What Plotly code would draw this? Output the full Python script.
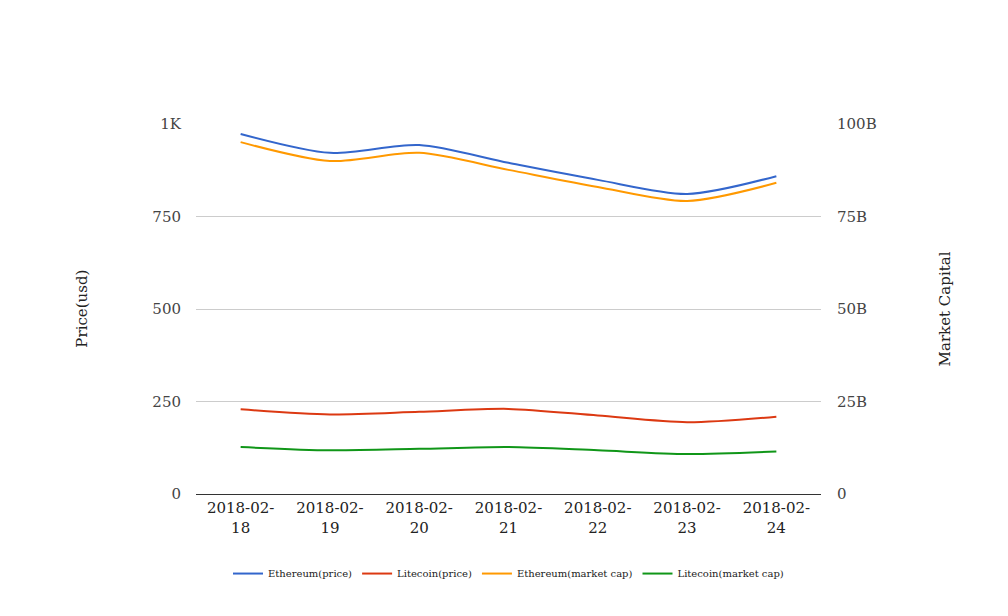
import plotly.graph_objects as go

dates = ["2018-02-<br>18", "2018-02-<br>19", "2018-02-<br>20", "2018-02-<br>21",
         "2018-02-<br>22", "2018-02-<br>23", "2018-02-<br>24"]
eth_price = [973, 922, 943, 895, 849, 811, 859]
ltc_price = [229, 215, 222, 230, 212, 194, 209]
eth_cap = [95.1e9, 90.0e9, 92.2e9, 87.6e9, 83.0e9, 79.2e9, 84.1e9]
ltc_cap = [12.7e9, 11.8e9, 12.2e9, 12.7e9, 11.8e9, 10.8e9, 11.5e9]

left_ticks = [0, 250, 500, 750, 1000]
left_labels = ["0", "250", "500", "750", "1K"]
right_ticks = [0, 25e9, 50e9, 75e9, 100e9]
right_labels = ["0", "25B", "50B", "75B", "100B"]

FONT = "DejaVu Serif"

fig = go.Figure()
fig.add_trace(go.Scatter(x=dates, y=eth_price, name="Ethereum(price)", mode="lines",
                         line=dict(color="#3366cc", width=2, shape="spline", smoothing=0.8)))
fig.add_trace(go.Scatter(x=dates, y=ltc_price, name="Litecoin(price)", mode="lines",
                         line=dict(color="#dc3912", width=2, shape="spline", smoothing=0.8)))
fig.add_trace(go.Scatter(x=dates, y=eth_cap, name="Ethereum(market cap)", mode="lines", yaxis="y2",
                         line=dict(color="#ff9900", width=2, shape="spline", smoothing=0.8)))
fig.add_trace(go.Scatter(x=dates, y=ltc_cap, name="Litecoin(market cap)", mode="lines", yaxis="y2",
                         line=dict(color="#109618", width=2, shape="spline", smoothing=0.8)))

fig.update_layout(
    width=1008, height=616,
    margin=dict(l=188, r=195, t=116, b=130),
    paper_bgcolor="white", plot_bgcolor="white",
    font=dict(family=FONT, size=15, color="#222222"),
    xaxis=dict(range=[-0.5, 6.5], showgrid=False, showline=True, linecolor="#333333",
               linewidth=1, ticks="", tickfont=dict(size=15, color="#222222")),
    yaxis=dict(range=[0, 1000], tickvals=left_ticks, ticktext=left_labels,
               showgrid=True, gridcolor="#cccccc", zeroline=True, zerolinecolor="#333333",
               ticks="", ticklabelstandoff=14, tickfont=dict(size=15, color="#444444")),
    yaxis2=dict(range=[0, 100e9], tickvals=right_ticks, ticktext=right_labels,
                overlaying="y", side="right", showgrid=False, zeroline=False,
                ticks="", ticklabelstandoff=15, tickfont=dict(size=15, color="#444444")),
    legend=dict(orientation="h", x=0.5, xanchor="center", y=-0.215, yanchor="middle",
                font=dict(size=10, color="#222222"), itemwidth=30),
    showlegend=True,
    annotations=[
        dict(text="Price(usd)", xref="paper", yref="paper", x=-0.183, y=0.5,
             xanchor="center", yanchor="middle",
             textangle=-90, showarrow=False, font=dict(size=15, color="#222222")),
        dict(text="Market Capital", xref="paper", yref="paper", x=1.199, y=0.5,
             xanchor="center", yanchor="middle",
             textangle=-90, showarrow=False, font=dict(size=15, color="#222222")),
    ],
)

fig.write_html("out.html")
